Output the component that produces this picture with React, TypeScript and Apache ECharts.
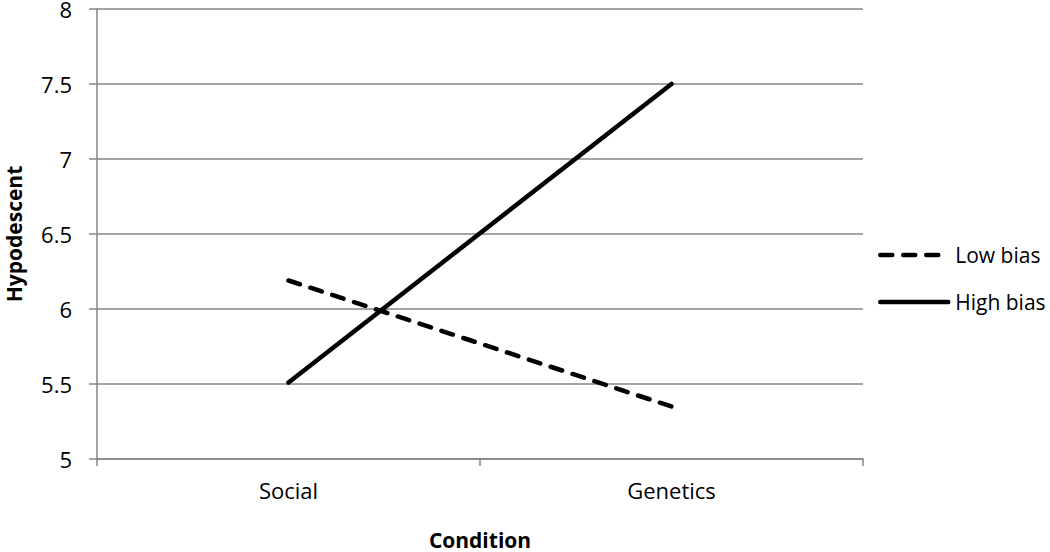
import React, { useEffect, useRef } from "react";
import * as echarts from "echarts";

const categories = ["Social", "Genetics"];
const lowBias = [6.19, 5.35];
const highBias = [5.51, 7.5];
const yTicks = { min: 5, max: 8, interval: 0.5 };

export default function App() {
  const ref = useRef<HTMLDivElement>(null);
  useEffect(() => {
    if (!ref.current) return;
    const chart = echarts.init(ref.current, null, { renderer: "svg" });
    const font = "'Open Sans', 'Noto Sans', sans-serif";
    const axisGray = "#868686";
    chart.setOption({
      animation: false,
      textStyle: { fontFamily: font },
      grid: { left: 97, right: 187, top: 9, bottom: 93, containLabel: false, outerBoundsMode: "none" },
      xAxis: {
        type: "category",
        data: categories,
        boundaryGap: true,
        name: "Condition",
        nameLocation: "middle",
        nameGap: 70,
        nameTextStyle: { fontFamily: font, fontSize: 21, fontWeight: "bold", color: "#000" },
        axisLine: { lineStyle: { color: axisGray, width: 1.5 } },
        axisTick: { show: true, length: 7, lineStyle: { color: axisGray, width: 1.5 } },
        axisLabel: { fontFamily: font, fontSize: 22, color: "#000", margin: 20 },
      },
      yAxis: {
        type: "value",
        min: yTicks.min,
        max: yTicks.max,
        interval: yTicks.interval,
        name: "Hypodescent",
        nameLocation: "middle",
        nameGap: 72,
        nameRotate: 90,
        nameTextStyle: { fontFamily: font, fontSize: 21, lineHeight: 22, fontWeight: "bold", color: "#000" },
        axisLine: { show: true, lineStyle: { color: axisGray, width: 1.5 } },
        axisTick: { show: true, length: 8, inside: false, lineStyle: { color: axisGray, width: 1.5 } },
        axisLabel: { fontFamily: font, fontSize: 22, lineHeight: 16, color: "#000", margin: 25 },
        splitLine: { show: true, lineStyle: { color: axisGray, width: 1.5 } },
      },
      legend: {
        orient: "vertical",
        left: 878,
        top: 242,
        padding: 0,
        itemWidth: 68,
        itemHeight: 14,
        itemGap: 21,
        itemStyle: { opacity: 0 },
        lineStyle: { width: 4.5, cap: "round" },
        textStyle: { fontFamily: font, fontSize: 21, lineHeight: 26, color: "#000", padding: [0, 0, 0, 2] },
        data: ["Low bias", "High bias"],
      },
      series: [
        {
          name: "Low bias",
          type: "line",
          data: lowBias,
          symbol: "none",
          lineStyle: { color: "#000", width: 4.5, type: [12, 11], cap: "round" },
          itemStyle: { color: "#000" },
        },
        {
          name: "High bias",
          type: "line",
          data: highBias,
          symbol: "none",
          lineStyle: { color: "#000", width: 4.5, type: "solid", cap: "round" },
          itemStyle: { color: "#000" },
        },
      ],
    });
    return () => chart.dispose();
  }, []);
  return <div ref={ref} style={{ width: 1050, height: 552, position: "absolute", left: 0, top: 0 }} />;
}
